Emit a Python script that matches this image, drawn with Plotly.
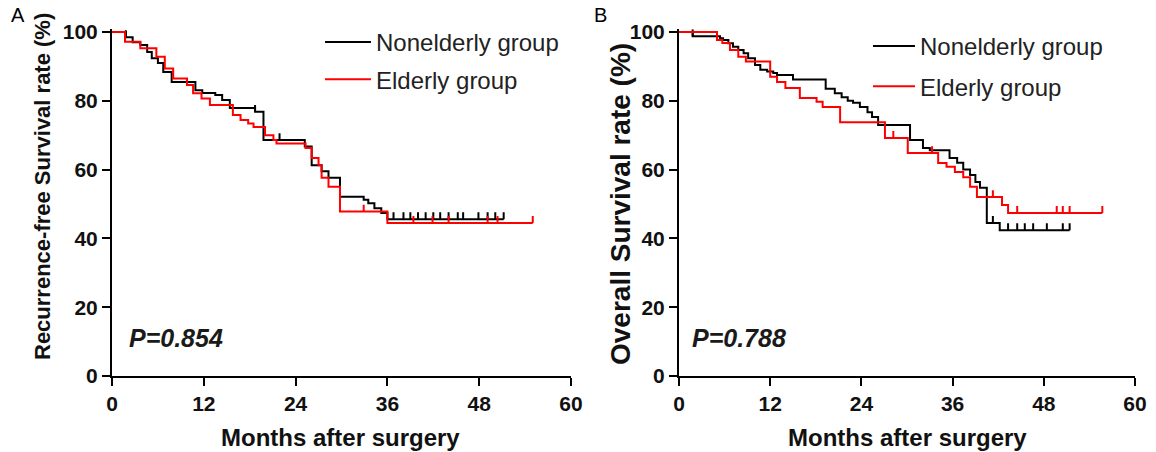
import plotly.graph_objects as go

# ---------------- data ----------------
# Panel A: recurrence-free survival
a_non_t = [0, 1.8, 2.7, 3.7, 4.6, 5.2, 6.0, 6.7, 7.8, 10.9, 11.8, 13.5, 14.4, 15.4, 18.7, 19.8, 25.2, 26.1, 27.4, 28.3, 29.8, 32.9, 33.5, 34.3, 35.2, 36.0]
a_non_s = [100, 98.5, 97.0, 96.2, 94.2, 92.4, 91.0, 88.4, 85.5, 83.1, 82.3, 81.7, 80.2, 77.9, 76.8, 68.6, 66.7, 61.3, 59.5, 57.6, 52.1, 51.2, 50.2, 48.8, 47.4, 45.6]
a_non_end = 51.2
a_non_cens = [1.8, 18.7, 21.9, 36.8, 38.1, 39.0, 40.0, 41.0, 42.0, 42.9, 44.0, 45.2, 45.9, 47.9, 49.1, 50.1, 51.2]

a_eld_t = [0, 1.7, 3.7, 5.8, 6.9, 8.0, 9.8, 10.6, 11.7, 12.8, 15.8, 16.8, 17.8, 18.5, 20.0, 21.1, 21.5, 25.3, 26.1, 27.0, 27.4, 28.3, 29.8, 36.0]
a_eld_s = [100, 97.2, 95.3, 92.8, 89.4, 86.5, 84.6, 82.2, 80.7, 78.8, 75.9, 74.4, 73.4, 72.4, 70.0, 68.6, 67.6, 66.3, 63.4, 61.3, 57.6, 55.0, 47.8, 44.5]
a_eld_end = 55.0
a_eld_cens = [32.9, 39.4, 41.9, 44.0, 49.1, 50.4, 55.0]

# Panel B: overall survival
b_non_t = [0, 1.8, 5.4, 5.8, 6.5, 7.1, 7.8, 8.5, 9.1, 10.0, 10.7, 11.6, 12.4, 12.9, 15.0, 19.3, 20.5, 21.4, 22.2, 22.9, 23.8, 24.8, 25.4, 26.2, 30.4, 32.1, 33.0, 35.6, 36.6, 37.4, 38.3, 39.0, 39.6, 40.5, 42.2]
b_non_s = [100, 98.8, 98.2, 97.7, 96.7, 95.7, 94.8, 93.8, 92.4, 90.4, 89.0, 88.5, 88.1, 87.5, 86.2, 83.5, 82.2, 81.0, 80.0, 79.4, 78.2, 76.7, 75.3, 73.0, 68.6, 66.3, 65.6, 63.4, 62.0, 60.0, 58.4, 56.4, 54.7, 44.5, 42.4]
b_non_end = 51.4
b_non_cens = [1.8, 41.3, 43.3, 44.5, 45.5, 46.6, 48.4, 50.5, 51.4]

b_eld_t = [0, 5.0, 5.7, 6.7, 7.8, 8.8, 12.0, 12.9, 14.0, 15.9, 18.1, 18.9, 21.2, 27.1, 30.1, 34.1, 35.2, 36.3, 37.4, 38.3, 39.2, 42.5, 43.3]
b_eld_s = [100, 97.7, 96.8, 94.8, 92.8, 91.4, 87.0, 85.5, 83.7, 80.8, 79.7, 78.2, 73.8, 69.2, 64.8, 61.9, 60.8, 59.3, 57.8, 55.0, 52.0, 49.7, 47.4]
b_eld_end = 55.7
b_eld_cens = [28.2, 33.3, 41.3, 44.5, 49.7, 50.5, 51.4, 55.7]

group_names = ["Nonelderly group", "Elderly group"]
x_ticks = [0, 12, 24, 36, 48, 60]
y_ticks = [0, 20, 40, 60, 80, 100]
p_values = ["P=0.854", "P=0.788"]
y_titles = ["Recurrence-free Survival rate (%)", "Overall Survival rate (%)"]
x_title = "Months after surgery"
panel_labels = ["A", "B"]

# ---------------- figure ----------------
W, H = 1156, 452
OFF = 0  # page body margin removed below
BLACK = "#000000"
RED = "#ff0000"
CENS_H = 2.0  # censor tick height in % units
FONT = "Liberation Sans, Arial, sans-serif"


def surv_at(ts, ss, t):
    v = ss[0]
    for ti, si in zip(ts, ss):
        if ti <= t:
            v = si
    return v


def add_curve(fig, ts, ss, end, cens, color, name, xa, ya, legend):
    xs = list(ts) + [end]
    ys = list(ss) + [ss[-1]]
    fig.add_trace(go.Scatter(x=xs, y=ys, mode="lines", line=dict(color=color, width=2, shape="hv"),
                             name=name, xaxis=xa, yaxis=ya, legend=legend, legendgroup=name + legend,
                             hoverinfo="skip"))
    cx, cy = [], []
    for c in cens:
        s = surv_at(ts, ss, c)
        cx += [c, c, None]
        cy += [s, s + CENS_H, None]
    fig.add_trace(go.Scatter(x=cx, y=cy, mode="lines", line=dict(color=color, width=2),
                             showlegend=False, xaxis=xa, yaxis=ya, hoverinfo="skip"))


fig = go.Figure()
add_curve(fig, a_non_t, a_non_s, a_non_end, a_non_cens, BLACK, group_names[0], "x", "y", "legend")
add_curve(fig, a_eld_t, a_eld_s, a_eld_end, a_eld_cens, RED, group_names[1], "x", "y", "legend")
add_curve(fig, b_non_t, b_non_s, b_non_end, b_non_cens, BLACK, group_names[0], "x2", "y2", "legend2")
add_curve(fig, b_eld_t, b_eld_s, b_eld_end, b_eld_cens, RED, group_names[1], "x2", "y2", "legend2")

px = lambda p: (p - OFF) / W
py = lambda p: 1 - (p - OFF) / H

YTOP = 100.8
ydom = [py(376), py(376 - YTOP * 3.44)]

axis_common = dict(showline=True, linecolor="black", linewidth=2, ticks="outside", ticklen=8,
                   tickwidth=2, tickcolor="black", showgrid=False, zeroline=False, mirror=False,
                   automargin=False,
                   tickfont=dict(family=FONT, size=21, color="#111", weight="bold"))

fig.update_layout(
    width=W, height=H, autosize=False,
    margin=dict(l=0, r=0, t=0, b=0, pad=0, autoexpand=False),
    plot_bgcolor="white", paper_bgcolor="white",
    xaxis=dict(domain=[px(112), px(571)], range=[0, 60], tickvals=x_ticks, anchor="y", **axis_common),
    yaxis=dict(domain=ydom, range=[0, YTOP], tickvals=y_ticks, anchor="x", **axis_common),
    xaxis2=dict(domain=[px(679), px(1135)], range=[0, 60], tickvals=x_ticks, anchor="y2", **axis_common),
    yaxis2=dict(domain=ydom, range=[0, YTOP], tickvals=y_ticks, anchor="x2", **axis_common),
    legend=dict(x=px(320), y=py(20), xanchor="left", yanchor="top", bgcolor="rgba(0,0,0,0)",
                font=dict(family=FONT, size=24, color="#222"),
                tracegroupgap=3, itemwidth=46),
    legend2=dict(x=px(868), y=py(24), xanchor="left", yanchor="top", bgcolor="rgba(0,0,0,0)",
                 font=dict(family=FONT, size=24, color="#222"),
                 tracegroupgap=6, itemwidth=42),
)


def a(x, y, text, size, xanchor="center", angle=0, weight="normal", style="normal", color="#111"):
    return dict(x=px(x), y=py(y), text=text, showarrow=False, xref="paper", yref="paper",
                xanchor=xanchor, yanchor="middle", textangle=angle,
                font=dict(family=FONT, size=size, color=color, weight=weight, style=style))


ann = [
    a(18, 15, panel_labels[0], 20, color="black"),
    a(600, 15, panel_labels[1], 20, color="black"),
    a(43, 187, y_titles[0], 22, angle=-90, weight="bold"),
    a(620, 204, y_titles[1], 28, angle=-90, weight="bold"),
    a(340, 437, x_title, 24, weight="bold"),
    a(907, 437, x_title, 24, weight="bold"),
    a(127, 338, p_values[0], 25, xanchor="left", weight="bold", style="italic", color="#1a1a1a"),
    a(690, 338, p_values[1], 25, xanchor="left", weight="bold", style="italic", color="#1a1a1a"),
]
fig.update_layout(annotations=ann)

fig.write_html("out.html", config={"displayModeBar": False},
               post_script="document.body.style.margin='0';document.body.style.padding='0';")
